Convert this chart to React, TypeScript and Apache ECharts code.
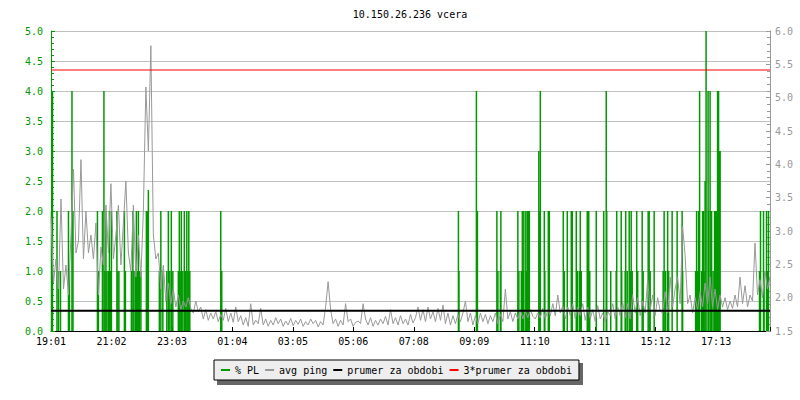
import React, { useEffect, useRef } from 'react';
import * as echarts from 'echarts';

const TITLE = '10.150.26.236 vcera';
const timeLabels = ['19:01', '21:02', '23:03', '01:04', '03:05', '05:06', '07:08', '09:09', '11:10', '13:11', '15:12', '17:13'];
const LABEL_STEP_MIN = 121.1;
const SPAN_MIN = 1440;
const PING_STEP_MIN = 5;

const avgPing = [
  3.21, 2.22, 2.58, 2.13, 3.48, 2.13, 2.49, 2.04, 2.94, 3.93,
  2.67, 2.85, 4.07, 2.58, 3.3, 2.67, 2.94, 2.58, 3.12, 2.04,
  2.76, 2.49, 3.39, 2.67, 3.71, 2.58, 2.94, 3.39, 2.49, 3.12,
  3.75, 2.67, 2.4, 3.39, 2.31, 2.94, 2.31, 3.3, 5.16, 4.2,
  5.78, 2.94, 2.58, 2.67, 2.13, 2.49, 1.95, 2.22, 1.91, 2.13,
  1.86, 2.04, 1.82, 1.95, 1.86, 2.0, 1.84,
  1.77, 1.95, 1.79, 1.86, 1.68, 1.82, 1.66, 1.77, 1.68, 1.79,
  1.64, 1.75, 1.66, 1.84, 1.64, 1.77, 1.63, 1.86, 1.64, 1.73,
  1.59, 1.7, 1.57, 1.91, 1.59, 1.66, 1.61, 1.84, 1.59, 1.68,
  1.57, 1.66, 1.59, 1.7, 1.61, 1.68, 1.57, 1.65, 1.59, 1.69,
  1.58, 1.66, 1.6, 1.68, 1.57, 1.64, 1.59, 1.68, 1.61, 1.66,
  1.56, 1.64, 1.59, 1.86, 2.24, 1.82, 1.61, 1.68, 1.57, 1.66,
  1.59, 1.91, 1.64, 1.68, 1.57, 1.63,
  1.65, 1.61, 1.91, 1.68, 1.59, 1.7, 1.57, 1.66, 1.59, 1.68,
  1.61, 1.72, 1.59, 1.82, 1.61, 1.7, 1.59, 1.73, 1.61, 1.68,
  1.59, 1.75, 1.62, 1.7, 1.86, 1.66, 1.82, 1.64, 1.86, 1.68,
  1.79, 1.64, 1.84, 1.66, 1.89, 1.61, 1.77, 1.59, 1.73, 1.61,
  1.75, 1.64, 1.77, 1.95, 1.64, 1.77, 1.59, 1.73, 1.61, 1.77,
  1.64, 1.75, 1.61, 1.73, 1.64, 1.77, 1.61, 1.75, 1.64, 2.13,
  1.68, 1.79, 1.64, 1.77, 1.68, 1.82, 1.68, 1.8, 1.7, 1.82, 1.72,
  1.68, 1.77, 1.7, 1.84, 1.68, 1.82, 1.73, 1.91, 1.73, 2.04,
  1.77, 1.88, 1.68, 1.86, 1.73, 1.91, 1.68, 1.86, 1.73, 1.91,
  1.66, 1.86, 1.68, 1.82, 1.64, 1.88, 1.68, 1.77, 1.64, 1.79,
  1.73, 1.91, 1.68, 1.86, 1.73, 1.93, 1.7, 1.91, 1.68, 2.04,
  1.77, 2.0, 1.73, 1.95, 1.77, 2.27, 1.82, 2.04, 1.73, 2.0, 1.8,
  1.77, 2.09, 1.77, 2.31, 1.86, 2.13, 2.31, 1.91, 3.07, 2.63,
  1.91, 2.04, 1.77, 2.0, 1.82, 2.09, 1.86, 2.22, 1.91, 2.31,
  1.86, 2.13, 1.82, 2.04, 1.86, 2.0, 1.82, 1.95, 1.84, 2.04,
  1.86, 2.31, 1.91, 2.18, 1.86, 2.04, 1.95, 2.82, 2.04, 2.27,
  2.0, 2.4, 2.13, 2.31,
];

const plMinutes = [
  1, 3, 12, 15, 19, 35, 37, 42, 44, 93, 95, 103, 106, 108, 110, 112, 115, 117, 119, 121,
  132, 134, 136, 147, 149, 161, 164, 166, 169, 171, 173, 175, 177, 180, 191, 193, 195,
  217, 220, 224, 232, 235, 238, 241, 244, 255, 257, 260, 261, 264, 267, 269, 272, 274, 276, 278,
  340, 342,
  816, 817, 852, 854, 893, 895, 900, 901, 935, 937, 942, 944, 946, 947, 951, 952, 954, 956, 958,
  977, 979, 980, 988, 989, 996, 998, 1026, 1028, 1034, 1042, 1044, 1052, 1054, 1058, 1060, 1062,
  1074, 1076, 1077, 1079, 1092, 1107, 1112, 1113, 1121, 1132, 1133, 1142, 1143, 1150, 1151, 1154,
  1158, 1160, 1162, 1164, 1173, 1175, 1184, 1186, 1196, 1198, 1200, 1208, 1226, 1228, 1231, 1235,
  1237, 1244, 1254, 1264, 1265, 1291, 1293, 1295, 1297, 1299, 1303, 1305, 1307, 1308, 1310, 1312,
  1316, 1317, 1320, 1322, 1323, 1326, 1329, 1331, 1333, 1335, 1337, 1339, 1340,
  1419, 1421, 1427, 1428, 1433, 1435, 1437,
];
const plValues = [
  2, 4, 2, 1, 1, 2, 1, 4, 2, 2, 1, 2, 4, 1, 2, 1, 1, 2, 1, 2,
  2, 1, 1, 2, 1, 1, 2, 1, 1, 2, 1, 2, 1, 1, 2, 2, 2.35,
  1, 2, 1, 1, 2, 1, 2, 1, 1, 2, 1, 2, 1, 2, 1, 2, 1, 2, 1,
  2, 1,
  2, 1, 4, 2, 2, 1, 1, 2, 2, 1, 1, 2, 1, 2, 2, 1, 2, 2, 2,
  3, 2, 4, 2, 1, 2, 2, 2, 1, 2, 2, 2, 2, 1, 1, 2, 1,
  2, 1, 2, 1, 2, 2, 4, 2, 1, 1, 2, 2, 1, 1, 2, 1,
  2, 1, 2, 1, 2, 1, 2, 1, 2, 2, 1, 2, 1, 2, 1, 2,
  1, 2, 2, 2, 1, 1, 2, 1, 2, 4, 1, 2, 2, 1, 2.5, 5,
  4, 2, 4, 2, 2, 1, 2, 2, 2, 4, 4, 3, 3,
  1, 2, 2, 1, 2, 1, 2,
];

const periodAvg = 1.805;
const periodAvg3 = 5.415;
const legendNames = ['% PL', 'avg ping', 'prumer za obdobi', '3*prumer za obdobi'];

const GREEN = '#009900';
const GRAY = '#999999';
const FONT = '"DejaVu Sans Mono", monospace';

export default function App() {
  const ref = useRef<HTMLDivElement>(null);
  useEffect(() => {
    if (!ref.current) return;
    const chart = echarts.init(ref.current, undefined, { renderer: 'svg' });
    const option: any = {
      animation: false,
      backgroundColor: '#ffffff',
      textStyle: { fontFamily: FONT },
      grid: { left: 51, right: 30, top: 31, bottom: 69, containLabel: false },
      graphic: [
        {
          type: 'text', x: 410, y: 14, z: 10,
          style: {
            text: TITLE, fill: '#000', font: '10px "DejaVu Sans Mono", monospace',
            textAlign: 'center', textVerticalAlign: 'middle', align: 'center', verticalAlign: 'middle',
          },
        },
        {
          type: 'rect', z: 0,
          shape: { x: 217, y: 363, width: 366, height: 22 },
          style: { fill: '#666666' },
        },
      ],
      legend: {
        data: legendNames, left: 214, top: 360, orient: 'horizontal',
        icon: 'rect', itemWidth: 9, itemHeight: 2, itemGap: 6,
        padding: [5, 7, 5, 7],
        backgroundColor: '#eeeeee', borderColor: '#000', borderWidth: 1, borderRadius: 0,
        textStyle: { fontFamily: FONT, fontSize: 10, color: '#000' },
        selectedMode: false, z: 10,
      },
      xAxis: {
        type: 'value', min: 0, max: SPAN_MIN, interval: LABEL_STEP_MIN,
        axisLine: { show: true, lineStyle: { color: '#000', width: 1 } },
        axisTick: { show: true, inside: true, length: 4, lineStyle: { color: '#000' } },
        axisLabel: {
          color: '#000', fontFamily: FONT, fontSize: 10, margin: 5,
          formatter: (v: number) => {
            const k = Math.round(v / LABEL_STEP_MIN);
            return Math.abs(v - k * LABEL_STEP_MIN) < 0.01 && k < timeLabels.length ? timeLabels[k] : '';
          },
        },
        splitLine: { show: false },
      },
      yAxis: [
        {
          type: 'value', min: 0, max: 5, interval: 0.5, position: 'left',
          axisLine: { show: true, lineStyle: { color: GREEN } },
          axisTick: { show: true, inside: true, length: 4, lineStyle: { color: GREEN } },
          minorTick: { show: true, splitNumber: 5, length: 3, lineStyle: { color: GREEN } },
          axisLabel: { color: GREEN, fontFamily: FONT, fontSize: 10, margin: 8, formatter: (v: number) => v.toFixed(1) },
          splitLine: { show: true, lineStyle: { color: '#c0c0c0', width: 1 } },
        },
        {
          type: 'value', min: 1.5, max: 6, interval: 0.5, position: 'right',
          axisLine: { show: true, lineStyle: { color: GRAY } },
          axisTick: { show: true, inside: true, length: 4, lineStyle: { color: GRAY } },
          minorTick: { show: true, splitNumber: 5, length: 3, lineStyle: { color: GRAY } },
          axisLabel: { color: GRAY, fontFamily: FONT, fontSize: 10, margin: 5, formatter: (v: number) => v.toFixed(1) },
          splitLine: { show: false },
        },
      ],
      series: [
        {
          name: legendNames[0], type: 'bar', xAxisIndex: 0, yAxisIndex: 0,
          data: plMinutes.map((t, i) => [t, plValues[i]]),
          barWidth: 1.5, itemStyle: { color: GREEN },
        },
        {
          name: legendNames[1], type: 'line', yAxisIndex: 1, symbol: 'none', showSymbol: false,
          data: avgPing.map((v, i) => [i * PING_STEP_MIN, v]),
          itemStyle: { color: GRAY }, lineStyle: { color: GRAY, width: 1 },
        },
        {
          name: legendNames[2], type: 'line', yAxisIndex: 1, symbol: 'none', showSymbol: false,
          data: [[0, periodAvg], [SPAN_MIN, periodAvg]],
          itemStyle: { color: '#000' }, lineStyle: { color: '#000', width: 2 },
        },
        {
          name: legendNames[3], type: 'line', yAxisIndex: 1, symbol: 'none', showSymbol: false,
          data: [[0, periodAvg3], [SPAN_MIN, periodAvg3]],
          itemStyle: { color: '#ff0000' }, lineStyle: { color: '#ff0000', width: 1 },
        },
      ],
    };
    chart.setOption(option);
    return () => chart.dispose();
  }, []);
  return <div ref={ref} style={{ position: 'absolute', left: 0, top: 0, width: 800, height: 400 }} />;
}
